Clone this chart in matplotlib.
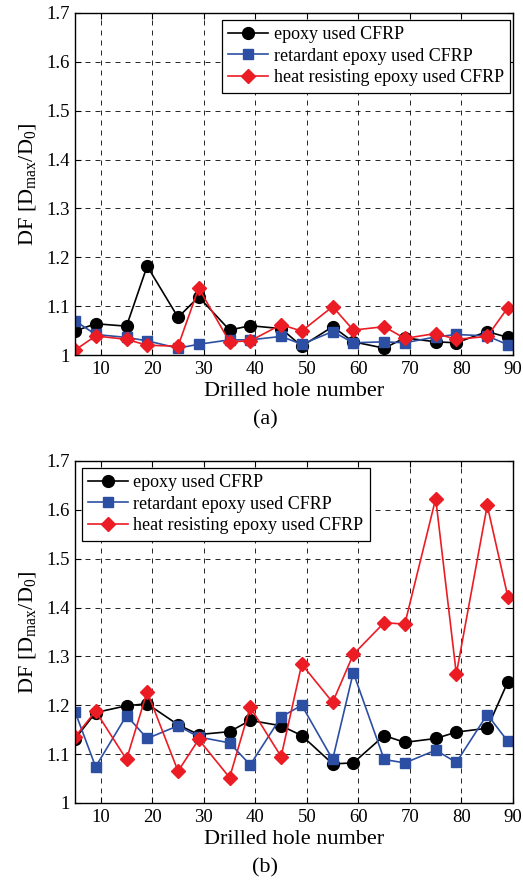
import matplotlib
matplotlib.use('Agg')
import matplotlib.pyplot as plt

plt.rcParams['font.family'] = ['Liberation Serif', 'DejaVu Serif']
plt.rcParams['mathtext.fontset'] = 'custom'
plt.rcParams['mathtext.rm'] = 'Liberation Serif'
plt.rcParams['mathtext.it'] = 'Liberation Serif:italic'

holes = [5, 9, 15, 19, 25, 29, 35, 39, 45, 49, 55, 59, 65, 69, 75, 79, 85, 89]

# (a)
epoxy_a = [1.049, 1.064, 1.059, 1.182, 1.077, 1.119, 1.051, 1.060, 1.054, 1.018,
           1.058, 1.027, 1.014, 1.035, 1.027, 1.025, 1.048, 1.036]
retard_a = [1.070, 1.042, 1.036, 1.029, 1.014, 1.022, 1.031, 1.031, 1.038, 1.022,
            1.048, 1.025, 1.027, 1.025, 1.037, 1.042, 1.039, 1.021]
heat_a = [1.010, 1.039, 1.032, 1.020, 1.018, 1.137, 1.027, 1.029, 1.062, 1.049,
          1.099, 1.051, 1.058, 1.034, 1.044, 1.032, 1.038, 1.097]

# (b)
epoxy_b = [1.131, 1.185, 1.199, 1.203, 1.160, 1.140, 1.146, 1.169, 1.158, 1.138,
           1.080, 1.082, 1.138, 1.124, 1.132, 1.145, 1.153, 1.248]
retard_b = [1.187, 1.074, 1.179, 1.132, 1.158, 1.135, 1.123, 1.078, 1.176, 1.200,
            1.089, 1.267, 1.089, 1.082, 1.108, 1.083, 1.181, 1.126]
heat_b = [1.135, 1.188, 1.089, 1.228, 1.065, 1.130, 1.052, 1.196, 1.095, 1.284,
          1.206, 1.304, 1.369, 1.366, 1.623, 1.264, 1.609, 1.422]

labels = ['epoxy used CFRP', 'retardant epoxy used CFRP', 'heat resisting epoxy used CFRP']
yticks = [1, 1.1, 1.2, 1.3, 1.4, 1.5, 1.6, 1.7]
ytick_labels = ['1', '1.1', '1.2', '1.3', '1.4', '1.5', '1.6', '1.7']
xticks = [10, 20, 30, 40, 50, 60, 70, 80, 90]

blue = '#2d4fa3'
red = '#ec1c24'

fig = plt.figure(figsize=(5.23, 8.82), dpi=100)
ax_a = fig.add_axes([0.1434, 0.5975, 0.8375, 0.3878])
ax_b = fig.add_axes([0.1434, 0.0896, 0.8375, 0.3878])


def draw_panel(ax, e, r, h, leg_loc, leg_anchor):
    ax.plot(holes, e, color='black', marker='o', ms=8.5, lw=1.2, label=labels[0])
    ax.plot(holes, r, color=blue, marker='s', ms=7, lw=1.2, label=labels[1])
    ax.plot(holes, h, color=red, marker='D', ms=7, lw=1.2, label=labels[2])
    ax.set_xlim(5, 90)
    ax.set_ylim(1, 1.7)
    ax.set_xticks(xticks)
    ax.set_yticks(yticks)
    ax.set_yticklabels(ytick_labels)
    ax.tick_params(direction='in', length=4, width=0.8, top=True, right=True,
                   labelsize=13.5, pad=4)
    ax.grid(True, color='black', ls=(0, (6, 6)), lw=0.6)
    for s in ax.spines.values():
        s.set_linewidth(1.0)
    ax.set_xlabel('Drilled hole number', fontsize=16, labelpad=3)
    ax.set_ylabel(r'DF [D$_{\rm max}$/D$_0$]', fontsize=16, labelpad=6)
    leg = ax.legend(loc=leg_loc, bbox_to_anchor=leg_anchor, borderaxespad=0,
                    fontsize=13, fancybox=False, framealpha=1, edgecolor='black',
                    handlelength=2.2, labelspacing=0.25, handletextpad=0.3,
                    borderpad=0.35)
    leg.get_frame().set_linewidth(0.9)


draw_panel(ax_a, epoxy_a, retard_a, heat_a, 'upper right', (0.993, 0.9795))
draw_panel(ax_b, epoxy_b, retard_b, heat_b, 'upper left', (0.016, 0.9795))

fig.text(0.507, 1 - 420 / 882, '(a)', ha='center', va='center', fontsize=16)
fig.text(0.507, 1 - 868 / 882, '(b)', ha='center', va='center', fontsize=16)

fig.savefig('out.png', dpi=100)
